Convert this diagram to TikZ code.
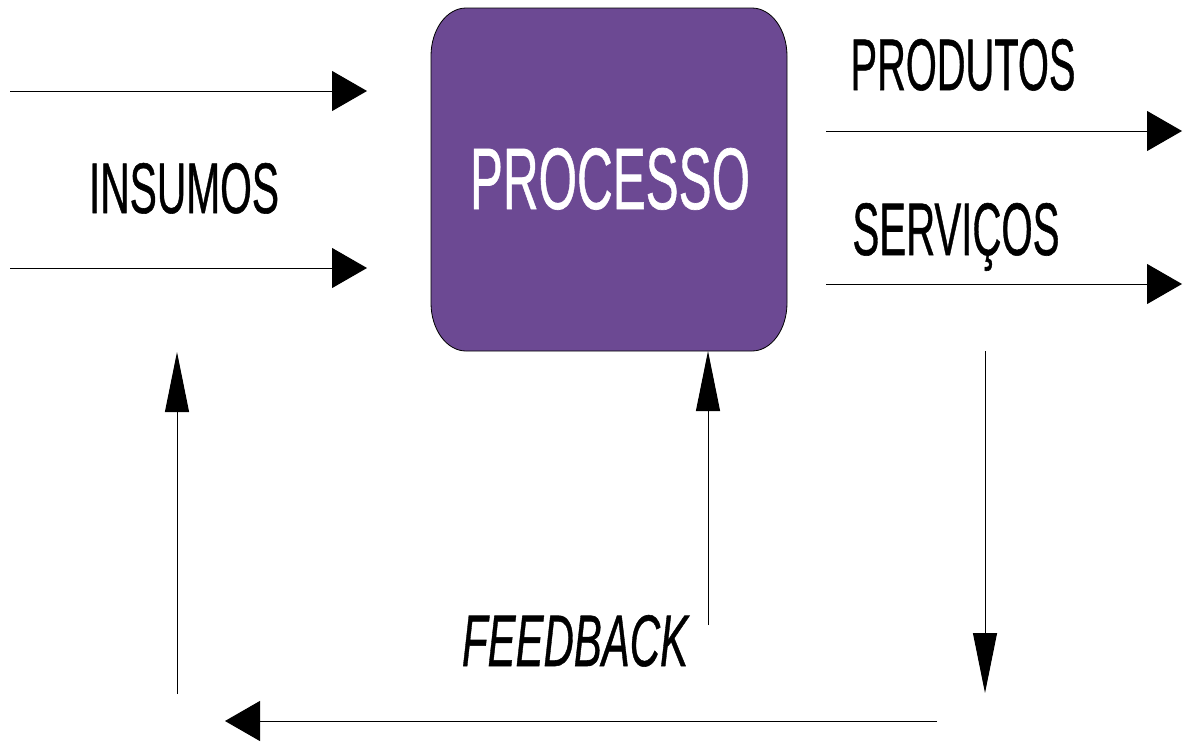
\documentclass[tikz,border=0pt]{standalone}
\usepackage{fontspec}
\usepackage{graphicx}
\usetikzlibrary{arrows.meta}
\newfontfamily\labfont[FakeBold=0.8]{Liberation Sans}
\definecolor{procfill}{HTML}{6C4993}
\tikzset{
  flow/.style={line width=1pt, -{Triangle[length=35pt,width=40pt]}},
  vflow/.style={line width=1pt, -{Triangle[length=60pt,width=24pt]}},
  lab/.style={anchor=base, inner sep=0pt, text=black},
}
\begin{document}
\begin{tikzpicture}[x=1pt,y=1pt]
  \useasboundingbox (0,0) rectangle (1183,-742);

  % process box with elliptical corners
  \fill[procfill, draw=black, line width=0.8pt]
    (466,-8) -- (752,-8)
    arc[start angle=90, end angle=0, x radius=35, y radius=48] -- (787,-303)
    arc[start angle=0, end angle=-90, x radius=35, y radius=48] -- (466,-351)
    arc[start angle=270, end angle=180, x radius=35, y radius=48] -- (431,-56)
    arc[start angle=180, end angle=90, x radius=35, y radius=48] -- cycle;
  \node[lab, text=white] (proc) at (610,-209)
    {\resizebox{280pt}{61pt}{\labfont PROCESSO}};

  % labels
  \node[lab] (insumos) at (184,-213) {\resizebox{190pt}{50pt}{\labfont INSUMOS}};
  \node[lab] (produtos) at (963,-90) {\resizebox{225pt}{51pt}{\labfont PRODUTOS}};
  \node[lab] (servicos) at (956,-255) {\resizebox{207pt}{52pt}{\labfont SERVIÇOS}};
  \node[lab] (feedback) at (575,-666) {\resizebox{226pt}{51pt}{\labfont\itshape FEEDBACK}};

  % connector end points
  \coordinate (inAs) at (10,-91);   \coordinate (inAe) at (367,-91);
  \coordinate (inBs) at (10,-268);  \coordinate (inBe) at (367,-268);
  \coordinate (outAs) at (826,-131); \coordinate (outAe) at (1182,-131);
  \coordinate (outBs) at (826,-284); \coordinate (outBe) at (1182,-284);
  \coordinate (downS) at (985,-351); \coordinate (downE) at (985,-693);
  \coordinate (backS) at (937,-721); \coordinate (backE) at (225,-721);
  \coordinate (upLs) at (177,-694);  \coordinate (upLe) at (177,-352);
  \coordinate (upMs) at (708,-625);  \coordinate (upMe) at (708,-351);

  % inputs and outputs
  \draw[flow] (inAs) -- (inAe);
  \draw[flow] (inBs) -- (inBe);
  \draw[flow] (outAs) -- (outAe);
  \draw[flow] (outBs) -- (outBe);

  % feedback loop
  \draw[vflow] (downS) -- (downE);
  \draw[flow] (backS) -- (backE);
  \draw[vflow] (upLs) -- (upLe);
  \draw[vflow] (upMs) -- (upMe);
\end{tikzpicture}
\end{document}
